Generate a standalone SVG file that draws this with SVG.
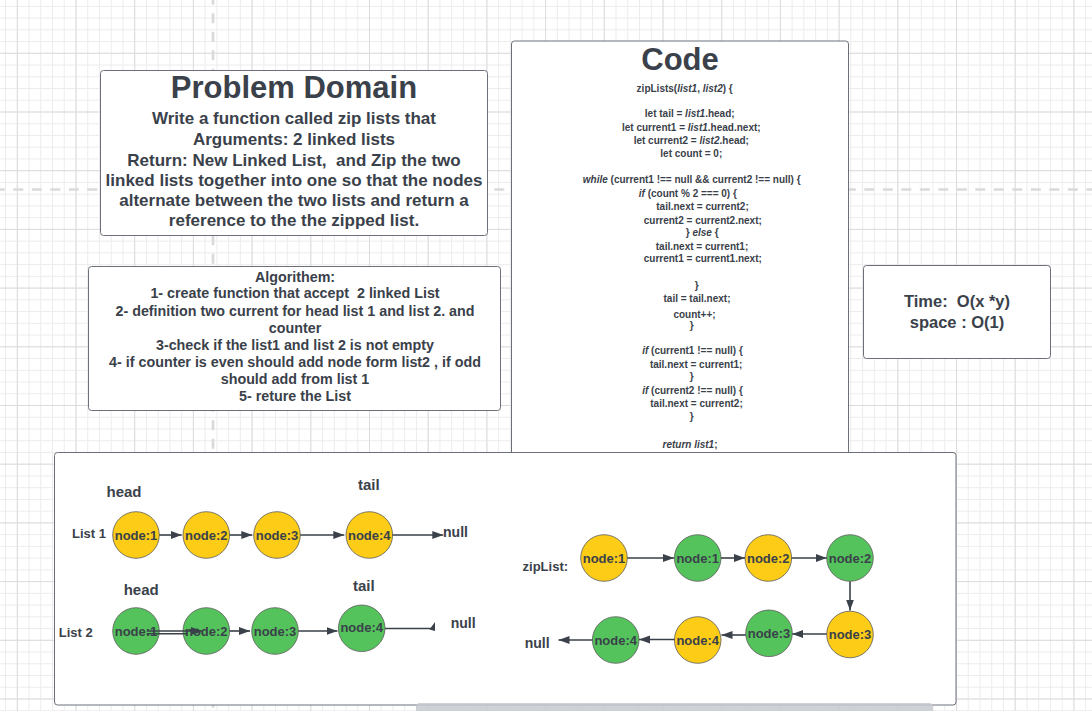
<svg xmlns="http://www.w3.org/2000/svg" width="1092" height="711" viewBox="0 0 1092 711">
<defs>
<style>
text{font-family:"Liberation Sans",Arial,sans-serif;font-weight:bold;fill:#3a414a;text-anchor:middle}
.box{fill:#fff;stroke:#6b7078;stroke-width:1}
.t31{font-size:31px}
.t17{font-size:17px}
.t14{font-size:14.3px}
.code{font-size:10px}
.t165{font-size:16.5px}
.lbl{font-size:15px}
.sm{font-size:13px}
.nl{font-size:14px}
.nt{font-size:13px}
.y{fill:#fccc16;stroke:#5a5a5a;stroke-width:0.8}
.g{fill:#55c35c;stroke:#5a5a5a;stroke-width:0.8}
.ar{stroke:#3a414a;stroke-width:1.6;fill:none}
.dash{stroke:#dadada;stroke-width:2.7;stroke-dasharray:10 8.5;fill:none}
.it{font-style:italic}
</style>
<pattern id="gMinor" x="16.8" y="52.8" width="11.74" height="11.74" patternUnits="userSpaceOnUse">
<path d="M0.5 0V11.74M0 0.5H11.74" stroke="#ececec" stroke-width="1" fill="none"/>
</pattern>
<pattern id="gMajor" x="16.8" y="52.8" width="58.7" height="58.7" patternUnits="userSpaceOnUse">
<path d="M0.5 0V58.7M0 0.5H58.7" stroke="#dcdcdc" stroke-width="1" fill="none"/>
</pattern>
<marker id="ah" markerUnits="userSpaceOnUse" markerWidth="12" markerHeight="9" refX="11" refY="4" orient="auto">
<path d="M0 0L11 4L0 8z" fill="#3a414a"/>
</marker>
</defs>

<rect width="1092" height="711" fill="#fff"/>
<rect width="1092" height="711" fill="url(#gMinor)"/>
<rect width="1092" height="711" fill="url(#gMajor)"/>
<line class="dash" x1="213" y1="0" x2="213" y2="711" stroke-dashoffset="5.2"/>
<line class="dash" x1="0" y1="189.5" x2="1092" y2="189.5" stroke-dashoffset="5.2"/>

<g id="problem-domain">
<rect class="box" x="100.5" y="70.5" width="387" height="165" rx="3"/>
<text class="t31" x="294" y="98.3">Problem Domain</text>
<text class="t17" x="294" y="124.3">Write a function called zip lists that</text>
<text class="t17" x="294" y="145">Arguments: 2 linked lists</text>
<text class="t17" x="294" y="166" xml:space="preserve">Return: New Linked List,  and Zip the two</text>
<text class="t17" x="294" y="186.2">linked lists together into one so that the nodes</text>
<text class="t17" x="294" y="206.3">alternate between the two lists and return a</text>
<text class="t17" x="294" y="226.3">reference to the the zipped list.</text>
</g>

<g id="algorithm">
<rect class="box" x="88.5" y="266.5" width="412" height="144" rx="3"/>
<text class="t14" x="295" y="281.7">Algorithem:</text>
<text class="t14" x="295" y="298.3" xml:space="preserve">1- create function that accept  2 linked List</text>
<text class="t14" x="295" y="315.7">2- definition two current for head list 1 and list 2. and</text>
<text class="t14" x="295" y="332.7">counter</text>
<text class="t14" x="295" y="350">3-check if the list1 and list 2 is not empty</text>
<text class="t14" x="295" y="366.7">4- if counter is even should add node form list2 , if odd</text>
<text class="t14" x="295" y="384">should add from list 1</text>
<text class="t14" x="295" y="401">5- reture the List</text>
</g>

<g id="code">
<rect class="box" x="511.5" y="41" width="337" height="420" rx="3"/>
<text class="t31" x="680" y="70">Code</text>
<text class="code" x="684.7" y="91.8">zipLists(<tspan class="it">list1</tspan>, <tspan class="it">list2</tspan>) {</text>
<text class="code" x="689.7" y="116.8">let tail = <tspan class="it">list1</tspan>.head;</text>
<text class="code" x="691.3" y="130.8">let current1 = <tspan class="it">list1</tspan>.head.next;</text>
<text class="code" x="691.3" y="143.5">let current2 = <tspan class="it">list2</tspan>.head;</text>
<text class="code" x="691.3" y="156.8">let count = 0;</text>
<text class="code" x="691.7" y="182.8"><tspan class="it">while</tspan> (current1 !== null &amp;&amp; current2 !== null) {</text>
<text class="code" x="687.8" y="196.8"><tspan class="it">if</tspan> (count % 2 === 0) {</text>
<text class="code" x="702.5" y="210.2">tail.next = current2;</text>
<text class="code" x="702.8" y="223.5">current2 = current2.next;</text>
<text class="code" x="702.2" y="236.2">} <tspan class="it">else</tspan> {</text>
<text class="code" x="702" y="249.5">tail.next = current1;</text>
<text class="code" x="702.8" y="261.8">current1 = current1.next;</text>
<text class="code" x="696.7" y="288.5">}</text>
<text class="code" x="697" y="301.8">tail = tail.next;</text>
<text class="code" x="694.5" y="317.5">count++;</text>
<text class="code" x="691.7" y="328.5">}</text>
<text class="code" x="692.5" y="354.2"><tspan class="it">if</tspan> (current1 !== null) {</text>
<text class="code" x="696.2" y="367.5">tail.next = current1;</text>
<text class="code" x="691.7" y="380.2">}</text>
<text class="code" x="692.5" y="393.5"><tspan class="it">if</tspan> (current2 !== null) {</text>
<text class="code" x="696.5" y="406.8">tail.next = current2;</text>
<text class="code" x="691.7" y="420.2">}</text>
<text class="code" x="690" y="447.5"><tspan class="it">return list1</tspan>;</text>
</g>

<g id="complexity">
<rect class="box" x="863.5" y="265.5" width="187" height="93" rx="3"/>
<text class="t165" x="957" y="306.5" xml:space="preserve">Time:  O(x *y)</text>
<text class="t165" x="957" y="327.5">space : O(1)</text>
</g>

<g id="examples">
<rect class="box" x="54.5" y="452.5" width="901.5" height="252.5" rx="3"/>
<text class="lbl" x="124" y="497">head</text>
<text class="lbl" x="368.8" y="490.3">tail</text>
<text class="sm" x="89" y="538">List 1</text>
<text class="nl" x="455.5" y="536.7">null</text>
<text class="lbl" x="141.2" y="594.7">head</text>
<text class="lbl" x="363.8" y="591.4">tail</text>
<text class="sm" x="75.7" y="637">List 2</text>
<text class="nl" x="463.2" y="628.3">null</text>
<text class="sm" x="545.3" y="571">zipList:</text>
<text class="nl" x="537.2" y="648.3">null</text>
</g>

<g id="l1-node1"><circle class="y" cx="136" cy="535" r="23.3"/><text class="nt" x="136" y="539.5">node:1</text></g>
<g id="l1-node2"><circle class="y" cx="206.3" cy="535" r="23.3"/><text class="nt" x="206.3" y="539.5">node:2</text></g>
<g id="l1-node3"><circle class="y" cx="277" cy="535" r="23.3"/><text class="nt" x="277" y="539.5">node:3</text></g>
<g id="l1-node4"><circle class="y" cx="369.3" cy="535" r="23.3"/><text class="nt" x="369.3" y="539.5">node:4</text></g>

<g id="l2-node1"><circle class="g" cx="136" cy="631" r="23.3"/><text class="nt" x="136" y="635.5">node:1</text></g>
<g id="l2-node2"><circle class="g" cx="206.3" cy="631" r="23.3"/><text class="nt" x="206.3" y="635.5">node:2</text></g>
<g id="l2-node3"><circle class="g" cx="275" cy="631" r="23.3"/><text class="nt" x="275" y="635.5">node:3</text></g>
<g id="l2-node4"><circle class="g" cx="361.7" cy="628.3" r="23.3"/><text class="nt" x="361.7" y="632">node:4</text></g>

<g id="z-node1"><circle class="y" cx="604" cy="558" r="23.3"/><text class="nt" x="604" y="562.5">node:1</text></g>
<g id="z-node2"><circle class="g" cx="697.7" cy="558" r="23.3"/><text class="nt" x="697.7" y="562.5">node:1</text></g>
<g id="z-node3"><circle class="y" cx="768.3" cy="558" r="23.3"/><text class="nt" x="768.3" y="562.5">node:2</text></g>
<g id="z-node4"><circle class="g" cx="850" cy="558" r="23.3"/><text class="nt" x="850" y="562.5">node:2</text></g>
<g id="z-node5"><circle class="y" cx="850" cy="634.5" r="23.3"/><text class="nt" x="850" y="639">node:3</text></g>
<g id="z-node6"><circle class="g" cx="769" cy="633.3" r="23.3"/><text class="nt" x="769" y="637.8">node:3</text></g>
<g id="z-node7"><circle class="y" cx="697.7" cy="640" r="23.3"/><text class="nt" x="697.7" y="644.5">node:4</text></g>
<g id="z-node8"><circle class="g" cx="615.7" cy="640" r="23.3"/><text class="nt" x="615.7" y="644.5">node:4</text></g>

<g id="connectors">
<line class="ar" x1="159.3" y1="535" x2="181.7" y2="535" marker-end="url(#ah)"/>
<line class="ar" x1="229.6" y1="535" x2="252.3" y2="535" marker-end="url(#ah)"/>
<line class="ar" x1="300.3" y1="535" x2="344.3" y2="535" marker-end="url(#ah)"/>
<line class="ar" x1="392.6" y1="535" x2="443.3" y2="535" marker-end="url(#ah)"/>
<line class="ar" x1="146.7" y1="631" x2="201.7" y2="631" stroke-width="1.2" marker-end="url(#ah)"/>
<line class="ar" x1="146.7" y1="633.7" x2="188" y2="633.7" stroke-width="1.2"/>
<circle cx="196.7" cy="631" r="2.4" fill="#3a414a"/>
<line class="ar" x1="229.6" y1="631" x2="250" y2="631" stroke-width="1.3" marker-end="url(#ah)"/>
<line class="ar" x1="298.3" y1="631" x2="337.5" y2="631" stroke-width="1.3" marker-end="url(#ah)"/>
<line class="ar" x1="385" y1="628.5" x2="434" y2="628.5" stroke-width="1.3"/>
<polygon points="429.5,629.5 435,622 435,631" fill="#3a414a"/>
<line class="ar" x1="627.3" y1="558" x2="674" y2="558" marker-end="url(#ah)"/>
<line class="ar" x1="721" y1="558" x2="745" y2="558" marker-end="url(#ah)"/>
<line class="ar" x1="791.6" y1="558" x2="826.7" y2="558" marker-end="url(#ah)"/>
<line class="ar" x1="850" y1="581.5" x2="850" y2="610.5" marker-end="url(#ah)"/>
<line class="ar" x1="826.7" y1="634" x2="792.3" y2="634" marker-end="url(#ah)"/>
<line class="ar" x1="745.7" y1="635" x2="721.5" y2="635" marker-end="url(#ah)"/>
<line class="ar" x1="674.4" y1="639.5" x2="639" y2="639.5" marker-end="url(#ah)"/>
<line class="ar" x1="592.4" y1="640" x2="558.5" y2="640" marker-end="url(#ah)"/>
</g>

<rect x="416" y="703" width="517" height="12" rx="4" fill="#c6c9ce" opacity="0.85"/>
</svg>
